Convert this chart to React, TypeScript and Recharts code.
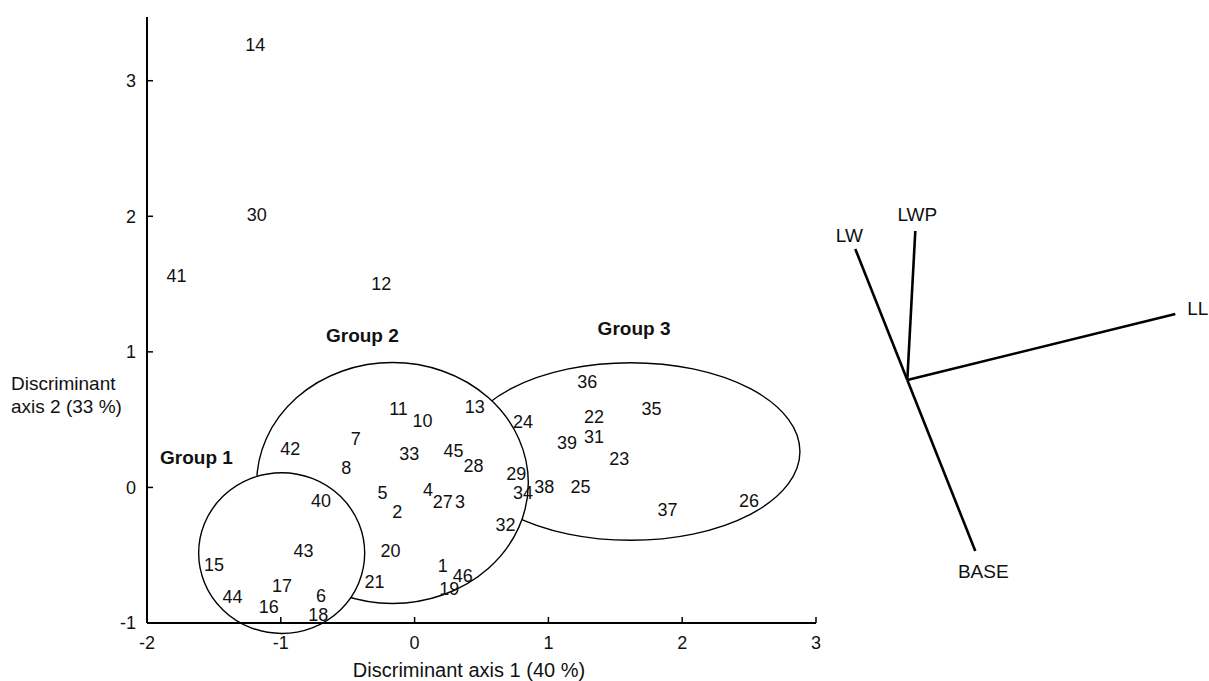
import React from 'react';
import { ScatterChart, Scatter, XAxis, YAxis, ReferenceArea, ReferenceLine } from 'recharts';

const FONT = '"Liberation Sans", Arial, Helvetica, sans-serif';

// Specimen scores on the two discriminant axes
const specimenIds = [14, 30, 41, 12, 11, 10, 13, 24, 7, 42, 33, 45, 28, 8, 29, 34, 38, 40, 5, 4, 27, 3, 2, 32, 20, 43, 15, 1, 46, 21, 19, 17, 44, 6, 16, 18, 36, 35, 22, 31, 39, 23, 25, 37, 26];
const axis1Scores = [-1.19, -1.18, -1.78, -0.25, -0.12, 0.06, 0.45, 0.81, -0.44, -0.93, -0.04, 0.29, 0.44, -0.51, 0.76, 0.81, 0.97, -0.70, -0.24, 0.10, 0.21, 0.34, -0.13, 0.68, -0.18, -0.83, -1.50, 0.21, 0.36, -0.30, 0.26, -0.99, -1.36, -0.70, -1.09, -0.72, 1.29, 1.77, 1.34, 1.34, 1.14, 1.53, 1.24, 1.89, 2.50];
const axis2Scores = [3.26, 2.01, 1.56, 1.50, 0.58, 0.49, 0.59, 0.48, 0.36, 0.28, 0.25, 0.27, 0.16, 0.14, 0.10, -0.04, 0.00, -0.10, -0.04, -0.02, -0.11, -0.11, -0.18, -0.28, -0.47, -0.47, -0.57, -0.58, -0.65, -0.70, -0.75, -0.73, -0.81, -0.80, -0.88, -0.94, 0.78, 0.58, 0.52, 0.37, 0.33, 0.21, 0.00, -0.17, -0.10];

// Group ellipses (data-space bounding boxes), drawn back to front
const groupNames = ['Group 3', 'Group 2', 'Group 1'];
const ellipseXMin = [0.35, -1.18, -1.614];
const ellipseXMax = [2.88, 0.85, -0.373];
const ellipseYMin = [-0.39, -0.856, -1.077];
const ellipseYMax = [0.92, 0.921, 0.108];

// Group label anchors
const groupLabelNames = ['Group 1', 'Group 2', 'Group 3'];
const groupLabelX = [-1.63, -0.39, 1.64];
const groupLabelY = [0.22, 1.12, 1.17];

// Axis ticks
const xTicks = [-2, -1, 0, 1, 2, 3];
const yTicks = [-1, 0, 1, 2, 3];

// Variable loadings (biplot vectors)
const loadingNames = ['LW', 'LWP', 'LL', 'BASE'];
const loadingX = [-0.52, 0.08, 2.68, 0.68];
const loadingY = [1.31, 1.49, 0.66, -1.71];

// label placement for loadings (pixel offsets from the tip)
const loadingLabelOffset: Record<string, { dx: number; dy: number; anchor: string }> = {
  LW: { dx: -6, dy: -14, anchor: 'middle' },
  LWP: { dx: 2, dy: -17, anchor: 'middle' },
  LL: { dx: 12, dy: -6, anchor: 'start' },
  BASE: { dx: 8, dy: 20, anchor: 'middle' },
};

const points = specimenIds.map((id, i) => ({ id, x: axis1Scores[i], y: axis2Scores[i] }));
const groupLabels = groupLabelNames.map((name, i) => ({ name, x: groupLabelX[i], y: groupLabelY[i] }));

const PointLabel = (props: any) => {
  const { cx, cy, payload } = props;
  if (cx == null || cy == null) return <g />;
  return (
    <text x={cx} y={cy} textAnchor="middle" dominantBaseline="central" fontSize={18} fontFamily={FONT} fill="#111">
      {payload.id}
    </text>
  );
};

const GroupLabel = (props: any) => {
  const { cx, cy, payload } = props;
  if (cx == null || cy == null) return <g />;
  return (
    <text x={cx} y={cy} textAnchor="middle" dominantBaseline="central" fontSize={19} fontWeight="bold" fontFamily={FONT} fill="#111">
      {payload.name}
    </text>
  );
};

const EllipseShape = (props: any) => {
  const { x, y, width, height } = props;
  return (
    <ellipse cx={x + width / 2} cy={y + height / 2} rx={Math.abs(width) / 2} ry={Math.abs(height) / 2} fill="#fff" stroke="#000" strokeWidth={1.4} />
  );
};

const LoadingTip = (props: any) => {
  const { cx, cy, payload } = props;
  if (!payload || !payload.name) return <g />;
  const o = loadingLabelOffset[payload.name];
  return (
    <text x={cx + o.dx} y={cy + o.dy} textAnchor={o.anchor as any} dominantBaseline="central" fontSize={19} fontFamily={FONT} fill="#111">
      {payload.name}
    </text>
  );
};

const tickStyle = { fill: '#111', fontSize: 18, fontFamily: FONT };

export default function App() {
  return (
    <div style={{ position: 'absolute', left: 0, top: 0, width: 1209, height: 681, background: '#fff', overflow: 'hidden' }}>
      <div style={{ position: 'absolute', left: 0, top: 0 }}>
        <ScatterChart width={1209} height={681} margin={{ top: 17, right: 393, bottom: 57, left: 146 }}>
          <XAxis
            type="number"
            dataKey="x"
            domain={[-2, 3]}
            ticks={xTicks}
            interval={0}
            height={1}
            tickSize={-6}
            tickMargin={19}
            axisLine={{ stroke: '#000', strokeWidth: 2 }}
            tickLine={{ stroke: '#000', strokeWidth: 1.5 }}
            tick={tickStyle}
            label={{
              content: () => (
                <text x={469} y={677} textAnchor="middle" fontSize={20} fontFamily={FONT} fill="#111">
                  Discriminant axis 1 (40 %)
                </text>
              ),
            }}
          />
          <YAxis
            type="number"
            dataKey="y"
            domain={[-1, 3.47]}
            ticks={yTicks}
            interval={0}
            width={1}
            tickSize={-6}
            tickMargin={17}
            axisLine={{ stroke: '#000', strokeWidth: 2 }}
            tickLine={{ stroke: '#000', strokeWidth: 1.5 }}
            tick={tickStyle}
            label={{
              content: () => (
                <text fontSize={19} fontFamily={FONT} fill="#111">
                  <tspan x={11} y={390}>Discriminant</tspan>
                  <tspan x={11} y={413}>axis 2 (33 %)</tspan>
                </text>
              ),
            }}
          />
          {groupNames.map((g, i) => (
            <ReferenceArea
              key={g}
              x1={ellipseXMin[i]}
              x2={ellipseXMax[i]}
              y1={ellipseYMin[i]}
              y2={ellipseYMax[i]}
              ifOverflow="visible"
              shape={EllipseShape}
            />
          ))}
          <ReferenceLine segment={[{ x: -2, y: -1 }, { x: 3, y: -1 }]} stroke="#000" strokeWidth={2} ifOverflow="visible" />
          <Scatter data={points} shape={PointLabel} isAnimationActive={false} />
          <Scatter data={groupLabels} shape={GroupLabel} isAnimationActive={false} />
        </ScatterChart>
      </div>
      <div style={{ position: 'absolute', left: 830, top: 200 }}>
        <ScatterChart width={379} height={400} margin={{ top: 0, right: 0, bottom: 0, left: 0 }}>
          <XAxis type="number" dataKey="x" domain={[-0.773, 3.017]} hide />
          <YAxis type="number" dataKey="y" domain={[-2.2, 1.8]} hide />
          {loadingNames.map((n, i) => (
            <Scatter
              key={n}
              data={[{ x: 0, y: 0, name: '' }, { x: loadingX[i], y: loadingY[i], name: n }]}
              line={{ stroke: '#000', strokeWidth: 2.6 }}
              shape={LoadingTip}
              isAnimationActive={false}
            />
          ))}
        </ScatterChart>
      </div>
    </div>
  );
}
